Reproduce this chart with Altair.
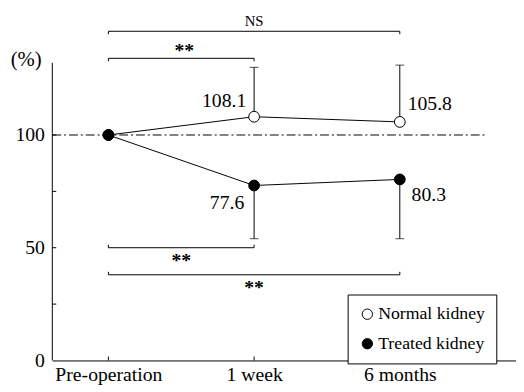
import altair as alt
import pandas as pd

# ---- data ----
timepoints = [0, 1, 2]
time_labels = ["Pre-operation", "1 week", "6 months"]
series_names = ["Normal kidney", "Treated kidney"]
normal_mean = [100.0, 108.1, 105.8]
treated_mean = [100.0, 77.6, 80.3]
normal_err_end = [None, 130.0, 131.0]   # upper SD limit
treated_err_end = [None, 54.0, 54.0]    # lower SD limit
normal_text = ["", "108.1", "105.8"]
treated_text = ["", "77.6", "80.3"]

reference_level = 100
y_ticks_labeled = [0, 50, 100]
y_ticks_minor = [25, 50, 75, 100]

bracket_from = [0, 0, 0, 0]
bracket_to = [2, 1, 1, 2]
bracket_level = [146, 134, 50, 38]
bracket_side = [-1, -1, 1, 1]
bracket_text = ["NS", "**", "**", "**"]

# ---- geometry ----
PX_PER_X = 148.0
W, H = 471, 355
X_MIN = -0.385
X_MAX = X_MIN + W / PX_PER_X
Y_MIN, Y_MAX = 0, 155
px_x = PX_PER_X
px_y = H / (Y_MAX - Y_MIN)
FONT = "Liberation Serif"

xs = alt.Scale(domain=[X_MIN, X_MAX], nice=False, zero=False)
ys = alt.Scale(domain=[Y_MIN, Y_MAX], nice=False, zero=False)

rows = []
for i, t in enumerate(timepoints):
    rows.append(dict(t=t, series=series_names[0], v=normal_mean[i], err=normal_err_end[i], lab=normal_text[i]))
for i, t in enumerate(timepoints):
    rows.append(dict(t=t, series=series_names[1], v=treated_mean[i], err=treated_err_end[i], lab=treated_text[i]))
df = pd.DataFrame(rows)
err_df = df.dropna(subset=["err"])

label_expr = ("datum.value == 0 ? '" + time_labels[0] + "' : datum.value == 1 ? '"
              + time_labels[1] + "' : '" + time_labels[2] + "'")
x_axis = alt.Axis(values=timepoints, title=None, grid=False, ticks=False, tickSize=0,
                  domain=True, domainColor="black", domainWidth=1, labelExpr=label_expr,
                  labelFont=FONT, labelFontSize=20, labelColor="black", labelPadding=4)
y_axis = alt.Axis(values=y_ticks_labeled, grid=False, ticks=False, tickSize=0, domain=False,
                  labelFont=FONT, labelFontSize=20, labelColor="black", labelPadding=8,
                  title="(%)", titleAngle=0, titleX=-27, titleY=49, titleAlign="center",
                  titleBaseline="middle", titleFont=FONT, titleFontSize=21,
                  titleFontWeight="normal", titleColor="black")

base = alt.Chart(df)

lines = base.mark_line(color="black", strokeWidth=1).encode(
    x=alt.X("t:Q", scale=xs, axis=x_axis),
    y=alt.Y("v:Q", scale=ys, axis=y_axis),
    detail="series:N",
)

err_rules = alt.Chart(err_df).mark_rule(color="black", strokeWidth=1).encode(
    x="t:Q", y="v:Q", y2="err:Q")
err_caps = alt.Chart(err_df).mark_tick(color="black", thickness=1, size=9, orient="horizontal").encode(
    x="t:Q", y="err:Q")

# reference dash-dot line
ref_df = pd.DataFrame({"x0": [X_MIN], "x1": [2.59], "y": [reference_level]})
ref = alt.Chart(ref_df).mark_rule(color="black", strokeWidth=1, strokeDash=[9, 3, 2, 3]).encode(
    x="x0:Q", x2="x1:Q", y="y:Q")

# y axis line (ends at ~132)
yax_df = pd.DataFrame({"x": [X_MIN], "y0": [0], "y1": [132]})
yax = alt.Chart(yax_df).mark_rule(color="black", strokeWidth=1).encode(x="x:Q", y="y0:Q", y2="y1:Q")

# inward ticks
ytk_df = pd.DataFrame({"y": y_ticks_minor, "x0": [X_MIN] * len(y_ticks_minor),
                       "x1": [X_MIN + 4 / px_x] * len(y_ticks_minor)})
ytk = alt.Chart(ytk_df).mark_rule(color="black", strokeWidth=1).encode(x="x0:Q", x2="x1:Q", y="y:Q")
xtk_df = pd.DataFrame({"x": timepoints, "y0": [0] * 3, "y1": [4 / px_y] * 3})
xtk = alt.Chart(xtk_df).mark_rule(color="black", strokeWidth=1).encode(x="x:Q", y="y0:Q", y2="y1:Q")

# brackets
brows = []
tlen = 3 / px_y
for b in range(len(bracket_from)):
    end = bracket_level[b] + bracket_side[b] * tlen
    pts = [(bracket_from[b], end), (bracket_from[b], bracket_level[b]),
           (bracket_to[b], bracket_level[b]), (bracket_to[b], end)]
    for k, (px, py) in enumerate(pts):
        brows.append(dict(b=b, k=k, x=px, y=py))
bdf = pd.DataFrame(brows)
brk = alt.Chart(bdf).mark_line(color="black", strokeWidth=1).encode(
    x="x:Q", y="y:Q", detail="b:N", order="k:Q")

btext_df = pd.DataFrame({"x": [(bracket_from[i] + bracket_to[i]) / 2 for i in range(4)],
                         "y": bracket_level, "lab": bracket_text})
ns_txt = alt.Chart(btext_df.iloc[[0]]).mark_text(font=FONT, fontSize=15, color="black",
                                                   baseline="bottom", dy=-2).encode(
    x="x:Q", y="y:Q", text="lab:N")
ast_top = alt.Chart(btext_df.iloc[[1]]).mark_text(font=FONT, fontSize=20, fontWeight="bold",
                                                    color="black", baseline="middle", dx=3, dy=-7).encode(
    x="x:Q", y="y:Q", text="lab:N")
ast_bot = alt.Chart(btext_df.iloc[[2, 3]]).mark_text(font=FONT, fontSize=20, fontWeight="bold",
                                                       color="black", baseline="middle", dy=14).encode(
    x="x:Q", y="y:Q", text="lab:N")

# value labels
def vlabel(sel, align, dx, dy):
    return alt.Chart(df.iloc[sel]).mark_text(font=FONT, fontSize=20, color="black",
                                             align=align, baseline="middle", dx=dx, dy=dy).encode(
        x="t:Q", y="v:Q", text="lab:N")

lab_n1 = vlabel([1], "right", -8, -16)
lab_n2 = vlabel([2], "left", 8, -18)
lab_t1 = vlabel([4], "right", -10, 18)
lab_t2 = vlabel([5], "left", 12, 16)

points = base.mark_point(filled=True, size=120, stroke="black", strokeWidth=1, opacity=1).encode(
    x="t:Q", y="v:Q",
    fill=alt.Fill("series:N", scale=alt.Scale(domain=series_names, range=["white", "black"]),
                  legend=alt.Legend(title=None, orient="none", legendX=300, legendY=288,
                                    symbolType="circle", symbolSize=110, symbolStrokeColor="black",
                                    symbolStrokeWidth=1, labelFont=FONT, labelFontSize=18,
                                    labelColor="black", labelOffset=2, rowPadding=12,
                                    padding=11, strokeColor="black", fillColor="white")),
    order=alt.Order("series:N"),
)

chart = alt.layer(ref, yax, ytk, xtk, brk, ns_txt, ast_top, ast_bot,
                  lines, err_rules, err_caps, points,
                  lab_n1, lab_n2, lab_t1, lab_t2).properties(
    width=W, height=H,
    autosize=alt.AutoSizeParams(type="none"),
    padding={"left": 45, "top": 0, "right": 0, "bottom": 29},
    background="white",
).configure_view(stroke=None)

chart.save("out.html", embed_options={"renderer": "svg", "actions": False})
